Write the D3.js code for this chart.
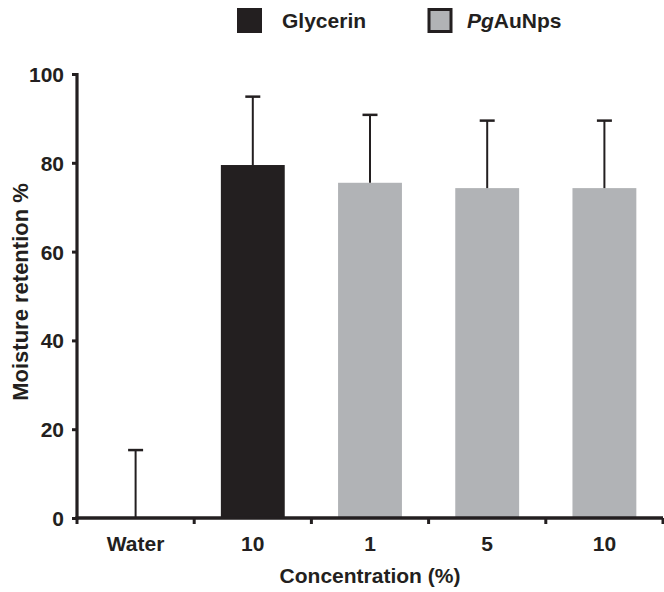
<!DOCTYPE html>
<html>
<head>
<meta charset="utf-8">
<script src="https://cdn.jsdelivr.net/npm/d3@7"></script>
<style>
    body { margin: 0; background: #fff; }
    text { font-family: "Liberation Sans", Arial, sans-serif; font-weight: bold; fill: #231f20; }
</style>
</head>
<body>
<script>
    var categories = ["Water", "10", "1", "5", "10"];
    var groups = ["Water", "Glycerin", "PgAuNps", "PgAuNps", "PgAuNps"];
    var means = [0, 79.5, 75.5, 74.3, 74.3];
    var errors = [15.3, 15.4, 15.3, 15.2, 15.2];
    var yTicks = [0, 20, 40, 60, 80, 100];

    var width = 664,
        height = 592,
        plotLeft = 77,
        plotRight = 663,
        plotTop = 74,
        plotBottom = 518,
        ink = "#231f20";

    var colors = { Water: "none", Glycerin: "#231f20", PgAuNps: "#b1b3b6" };

    var svg = d3.select("body").append("svg")
        .attr("width", width)
        .attr("height", height);

    var x = d3.scaleBand()
        .domain(d3.range(categories.length))
        .range([plotLeft, plotRight])
        .paddingInner(0.455)
        .paddingOuter(0.2275);

    var xb = d3.scaleBand()
        .domain(d3.range(categories.length))
        .range([plotLeft, plotRight]);

    var y = d3.scaleLinear()
        .domain([0, 100])
        .range([plotBottom, plotTop]);

    // bars
    svg.selectAll(".bar")
        .data(means)
        .enter()
        .append("rect")
        .attr("class", "bar")
        .attr("x", function (d, i) { return x(i); })
        .attr("width", x.bandwidth())
        .attr("y", function (d) { return y(d); })
        .attr("height", function (d) { return plotBottom - y(d); })
        .style("fill", function (d, i) { return colors[groups[i]]; });

    // error bars (upper only)
    var err = svg.selectAll(".err")
        .data(means)
        .enter()
        .append("g")
        .attr("class", "err");

    err.append("line")
        .attr("x1", function (d, i) { return x(i) + x.bandwidth() / 2; })
        .attr("x2", function (d, i) { return x(i) + x.bandwidth() / 2; })
        .attr("y1", function (d) { return y(d); })
        .attr("y2", function (d, i) { return y(d + errors[i]); })
        .style("stroke", ink)
        .style("stroke-width", 2);

    err.append("line")
        .attr("x1", function (d, i) { return x(i) + x.bandwidth() / 2 - 7.5; })
        .attr("x2", function (d, i) { return x(i) + x.bandwidth() / 2 + 7.5; })
        .attr("y1", function (d, i) { return y(d + errors[i]); })
        .attr("y2", function (d, i) { return y(d + errors[i]); })
        .style("stroke", ink)
        .style("stroke-width", 2.5);

    // y axis
    var yAxis = d3.axisLeft(y)
        .tickValues(yTicks)
        .tickSize(5)
        .tickPadding(8);

    var gy = svg.append("g")
        .attr("transform", "translate(" + plotLeft + ",0)")
        .call(yAxis);

    gy.select(".domain")
        .attr("d", "M0," + (plotTop - 1) + "V" + (plotBottom + 1.5))
        .style("stroke", ink)
        .style("stroke-width", 3.2);
    gy.selectAll(".tick line").style("stroke", ink).style("stroke-width", 3);
    gy.selectAll(".tick text").style("font-size", "21px").attr("dy", "0.36em");

    // x axis: ticks at category boundaries
    var bounds = d3.range(categories.length + 1).map(function (i) {
        return i < categories.length ? xb(i) : plotRight;
    });

    svg.append("line")
        .attr("x1", plotLeft - 1.6)
        .attr("x2", plotRight)
        .attr("y1", plotBottom)
        .attr("y2", plotBottom)
        .style("stroke", ink)
        .style("stroke-width", 3.5);

    svg.selectAll(".xtick")
        .data(bounds)
        .enter()
        .append("line")
        .attr("class", "xtick")
        .attr("x1", function (d) { return d; })
        .attr("x2", function (d) { return d; })
        .attr("y1", plotBottom)
        .attr("y2", plotBottom + 6)
        .style("stroke", ink)
        .style("stroke-width", 3);

    svg.selectAll(".xlabel")
        .data(categories)
        .enter()
        .append("text")
        .attr("class", "xlabel")
        .attr("x", function (d, i) { return xb(i) + xb.bandwidth() / 2; })
        .attr("y", 551)
        .attr("text-anchor", "middle")
        .style("font-size", "21px")
        .text(function (d) { return d; });

    // axis titles
    svg.append("text")
        .attr("x", (plotLeft + plotRight) / 2)
        .attr("y", 583)
        .attr("text-anchor", "middle")
        .style("font-size", "21px")
        .text("Concentration (%)");

    svg.append("text")
        .attr("transform", "translate(28," + 292 + ") rotate(-90)")
        .attr("text-anchor", "middle")
        .style("font-size", "22px")
        .text("Moisture retention %");

    // legend
    var legend = svg.append("g");

    legend.append("rect")
        .attr("x", 237).attr("y", 8)
        .attr("width", 25).attr("height", 25)
        .style("fill", colors.Glycerin);

    legend.append("text")
        .attr("x", 282).attr("y", 28)
        .style("font-size", "21px")
        .text("Glycerin");

    legend.append("rect")
        .attr("x", 429).attr("y", 9.5)
        .attr("width", 22).attr("height", 22)
        .style("fill", colors.PgAuNps)
        .style("stroke", ink)
        .style("stroke-width", 3);

    var pg = legend.append("text")
        .attr("x", 467).attr("y", 28)
        .style("font-size", "21px");
    pg.append("tspan").style("font-style", "italic").text("Pg");
    pg.append("tspan").text("AuNps");
</script>
</body>
</html>
